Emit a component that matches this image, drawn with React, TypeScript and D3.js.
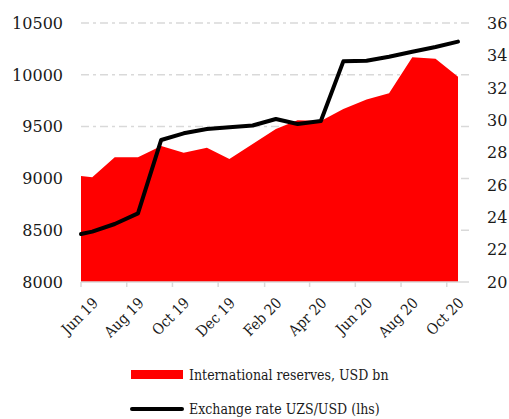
import { useEffect, useRef } from 'react';
import * as d3 from 'd3';

const W = 509;
const H = 419;

const DATES = [
  '2019-06-01', '2019-06-16', '2019-07-16', '2019-08-16', '2019-09-16', '2019-10-16',
  '2019-11-16', '2019-12-16', '2020-01-16', '2020-02-16', '2020-03-16', '2020-04-16',
  '2020-05-16', '2020-06-16', '2020-07-16', '2020-08-16', '2020-09-16', '2020-10-16',
];
// international reserves, USD bn (right axis)
const RESERVES = [
  26.55, 26.47, 27.7, 27.7, 28.4, 27.99, 28.3, 27.6, 28.52,
  29.45, 30.0, 29.95, 30.69, 31.28, 31.66, 33.88, 33.79, 32.68,
];
// exchange rate UZS/USD (left axis)
const RATE = [
  8463, 8486, 8560, 8663, 9371, 9435, 9477, 9493, 9511,
  9573, 9525, 9554, 10130, 10135, 10175, 10222, 10268, 10320,
];
const LEFT_TICKS = [8000, 8500, 9000, 9500, 10000, 10500];
const RIGHT_TICKS = [20, 22, 24, 26, 28, 30, 32, 34, 36];
const X_DOMAIN = ['2019-06-01', '2020-11-01'];
const X_TICK_RANGE = ['2019-06-01', '2020-10-02'];
const LEGEND = ['International reserves, USD bn', 'Exchange rate UZS/USD (lhs)'];

const FONT = "'DejaVu Serif', serif";
const FONT_NARROW = "'DejaVu Serif Condensed', 'DejaVu Serif', serif";

export default function App() {
  const svgRef = useRef<SVGSVGElement>(null);

  useEffect(() => {
    const svg = d3.select(svgRef.current!);
    svg.selectAll('*').remove();

    const left = 81, right = 470, top = 23, bottom = 282;
    const parse = d3.timeParse('%Y-%m-%d');
    const dates = DATES.map((d) => parse(d)!);

    const x = d3.scaleTime().domain(X_DOMAIN.map((d) => parse(d)!) as [Date, Date]).range([left, right]);
    const yL = d3.scaleLinear().domain([8000, 10500]).range([bottom, top]);
    const yR = d3.scaleLinear().domain([20, 36]).range([bottom, top]);

    // gridlines
    svg.append('g').selectAll('line').data(LEFT_TICKS.slice(1)).join('line')
      .attr('x1', left).attr('x2', right - 1)
      .attr('y1', (d) => yL(d)).attr('y2', (d) => yL(d))
      .attr('stroke', '#d9d9d9').attr('stroke-width', 1.5)
      .attr('stroke-dasharray', '8,4,3,4');

    // reserves area
    const area = d3.area<number>()
      .x((_, i) => x(dates[i]))
      .y0(yR(20))
      .y1((d) => yR(d));
    svg.append('path').datum(RESERVES).attr('d', area).attr('fill', '#ff0000');

    // x axis
    const xTicks = d3.timeMonth.range(parse(X_TICK_RANGE[0])!, parse(X_TICK_RANGE[1])!, 2);
    svg.append('line').attr('x1', left).attr('x2', right - 1).attr('y1', bottom).attr('y2', bottom)
      .attr('stroke', '#d9d9d9').attr('stroke-width', 1.5);
    svg.append('g').selectAll('line').data(xTicks).join('line')
      .attr('x1', (d) => x(d)).attr('x2', (d) => x(d))
      .attr('y1', bottom).attr('y2', bottom + 5)
      .attr('stroke', '#d9d9d9').attr('stroke-width', 1.5);
    const fmt = d3.timeFormat('%b %y');
    svg.append('g').selectAll('text').data(xTicks).join('text')
      .attr('transform', (d) => `translate(${x(d) + 18},${bottom + 22}) rotate(-45)`)
      .attr('text-anchor', 'end')
      .style('font-family', FONT_NARROW).style('font-size', '15px').attr('fill', '#1a1a1a')
      .text((d) => fmt(d));

    // exchange rate line
    const line = d3.line<number>()
      .x((_, i) => x(dates[i]))
      .y((d) => yL(d));
    svg.append('path').datum(RATE).attr('d', line)
      .attr('fill', 'none').attr('stroke', '#000').attr('stroke-width', 4)
      .attr('stroke-linecap', 'round').attr('stroke-linejoin', 'round');

    // y labels
    svg.append('g').selectAll('text').data(LEFT_TICKS).join('text')
      .attr('x', 63).attr('y', (d) => yL(d)).attr('dy', '0.36em')
      .attr('text-anchor', 'end')
      .style('font-family', FONT).style('font-size', '16px').attr('fill', '#1a1a1a')
      .text((d) => d);
    svg.append('g').selectAll('text').data(RIGHT_TICKS).join('text')
      .attr('x', 487).attr('y', (d) => yR(d)).attr('dy', '0.36em')
      .style('font-family', FONT).style('font-size', '16px').attr('fill', '#1a1a1a')
      .text((d) => d);

    // legend
    const lg = svg.append('g');
    lg.append('rect').attr('x', 131).attr('y', 370).attr('width', 52).attr('height', 9).attr('fill', '#ff0000');
    lg.append('line').attr('x1', 132).attr('x2', 182).attr('y1', 409).attr('y2', 409)
      .attr('stroke', '#000').attr('stroke-width', 4).attr('stroke-linecap', 'round');
    lg.selectAll('text').data(LEGEND).join('text')
      .attr('x', 189).attr('y', (_, i) => (i === 0 ? 380 : 414))
      .style('font-family', FONT_NARROW).style('font-size', '14px').attr('fill', '#1a1a1a')
      .text((d) => d);
  }, []);

  return (
    <svg ref={svgRef} width={W} height={H}
      style={{ position: 'absolute', left: 0, top: 0, background: '#fff' }} />
  );
}
